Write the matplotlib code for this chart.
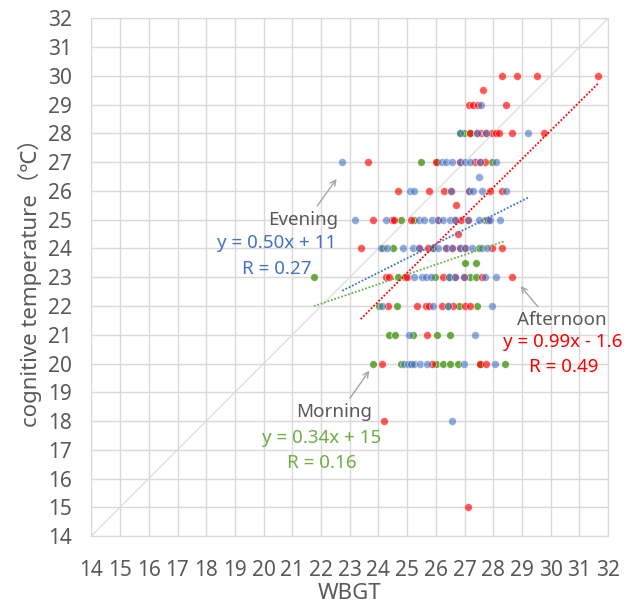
import numpy as np
import matplotlib
matplotlib.use("Agg")
import matplotlib.pyplot as plt

plt.rcParams['font.family'] = ['Noto Sans', 'Noto Sans CJK JP', 'DejaVu Sans']

# cognitive temperature -> list of WBGT readings, per time of day
morning = {
    28: [26.83, 26.98, 27.18],
    27: [25.47, 26.05, 27.94],
    25: [24.80, 25.25, 27.70],
    24: [24.17, 24.51, 25.90, 27.50],
    23.5: [27.00, 27.39],
    23: [21.75, 24.69, 25.97, 26.45, 27.18, 27.39],
    22: [24.02, 24.66, 26.41, 26.81, 27.42],
    21: [24.37, 24.57, 25.19, 26.04, 26.51],
    20: [23.80, 24.78, 25.15, 26.02, 26.25, 26.49, 26.78, 27.53, 28.40],
}
afternoon = {
    30: [28.31, 28.84, 29.53, 31.65],
    29.5: [27.65],
    29: [27.15, 27.29, 27.47, 28.43],
    28: [27.18, 27.45, 27.59, 27.76, 27.94, 28.11, 28.19, 28.67, 29.76],
    27: [23.64, 26.02, 26.83, 27.36, 27.53, 27.70],
    26: [24.67, 25.75, 26.30, 26.52, 27.15, 27.90, 28.32],
    25.5: [26.72],
    25: [23.80, 24.49, 24.56, 25.12, 26.08, 26.68, 26.87, 27.12, 27.82],
    24.5: [26.78],
    24: [23.38, 25.42, 25.73, 26.37, 26.55, 26.83, 27.00, 27.94, 28.29],
    23: [24.26, 24.37, 24.92, 24.98, 26.25, 26.66, 26.97, 27.62, 28.67],
    22: [24.34, 25.35, 25.65, 25.75, 26.20, 26.60, 27.01, 27.20],
    21: [25.70],
    20: [24.13, 25.85, 27.53, 27.76],
    18: [24.19],
    15: [27.12],
}
evening = {
    29: [27.56],
    28: [26.83, 27.45, 27.76, 29.21],
    27: [22.74, 26.20, 26.37, 26.55, 26.83, 27.00, 27.18, 27.53, 28.11],
    26.5: [27.50],
    26: [25.10, 25.25, 26.52, 27.15, 27.30, 27.62, 28.43],
    25: [23.17, 24.28, 25.42, 25.59, 25.85, 26.08, 26.25, 26.49, 26.68,
         27.12, 27.50, 27.82, 27.90, 28.23],
    24: [24.10, 24.30, 24.86, 25.20, 25.42, 25.90, 26.08, 26.37, 26.55,
         26.83, 27.00, 27.26, 27.60, 27.78],
    23: [25.23, 25.53, 25.65, 25.83, 26.45, 26.66, 26.97, 27.70, 28.09],
    22: [24.14, 25.90, 26.41, 27.96],
    21: [25.06, 27.36],
    20: [24.90, 25.03, 25.15, 25.23, 25.44, 25.71, 26.98, 28.05],
    18: [26.55],
}

# trendline coefficients (slope, intercept) as drawn in the chart
morning_fit = (0.34, 14.6)
afternoon_fit = (0.99, -1.6)
evening_fit = (0.50, 11.16)

def flatten(rows):
    xs, ys = [], []
    for t, ws in rows.items():
        xs += ws
        ys += [t] * len(ws)
    return np.array(xs), np.array(ys)

gray = '#595959'
series = [
    (morning, morning_fit, '#5AA02C', 0.9, '#70AD47'),
    (afternoon, afternoon_fit, '#FF0000', 0.65, '#FF0000'),
    (evening, evening_fit, '#4472C4', 0.6, '#4472C4'),
]

fig = plt.figure(figsize=(6.24, 6.08), dpi=100)
ax = fig.add_axes([0.1465, 0.1184, 0.8279, 0.8512])

ax.plot([14, 32], [14, 32], color='#d9d9d9', lw=0.8, zorder=1)

for rows, fit, col, a, lcol in series:
    x, y = flatten(rows)
    ax.scatter(x, y, s=32, color=col, alpha=a, edgecolors='white', linewidths=0.5, zorder=3)
    xx = np.array([x.min(), x.max()])
    ax.plot(xx, fit[0] * xx + fit[1], color=lcol, lw=1.3, ls=(0, (1, 1)), zorder=4)

ax.set_xlim(14, 32)
ax.set_ylim(14, 32)
ax.set_xticks(range(14, 33))
ax.set_yticks(range(14, 33))
ax.grid(True, color='#d9d9d9', lw=1)
ax.set_axisbelow(True)
for s in ax.spines.values():
    s.set_color('#d9d9d9')
ax.tick_params(length=0, labelsize=15, colors=gray)
ax.tick_params(axis='x', pad=17)
ax.tick_params(axis='y', pad=14)
ax.set_xlabel('WBGT', fontsize=16, color=gray, labelpad=2)
ax.set_ylabel('cognitive temperature（℃）', fontsize=16, color=gray, labelpad=4)

arrow = dict(arrowstyle='->', color='#a6a6a6', lw=1)
ax.annotate('', xy=(22.60, 26.50), xytext=(21.81, 25.40), arrowprops=arrow)
ax.annotate('', xy=(28.89, 22.77), xytext=(29.62, 21.90), arrowprops=arrow)
ax.annotate('', xy=(23.74, 19.83), xytext=(22.95, 18.71), arrowprops=arrow)

fs = 13.5
ax.text(21.37, 24.99, 'Evening', fontsize=fs, color=gray, ha='center', va='center')
ax.text(20.46, 24.19, 'y = 0.50x + 11', fontsize=fs, color='#4472C4', ha='center', va='center')
ax.text(20.46, 23.29, 'R = 0.27', fontsize=fs, color='#4472C4', ha='center', va='center')
ax.text(30.39, 21.51, 'Afternoon', fontsize=fs, color=gray, ha='center', va='center', clip_on=False)
ax.text(30.42, 20.75, 'y = 0.99x - 1.6', fontsize=fs, color='#FF0000', ha='center', va='center', clip_on=False)
ax.text(30.46, 19.88, 'R = 0.49', fontsize=fs, color='#FF0000', ha='center', va='center')
ax.text(22.45, 18.31, 'Morning', fontsize=fs, color=gray, ha='center', va='center')
ax.text(22.03, 17.41, 'y = 0.34x + 15', fontsize=fs, color='#70AD47', ha='center', va='center')
ax.text(22.03, 16.54, 'R = 0.16', fontsize=fs, color='#70AD47', ha='center', va='center')

fig.savefig('out.png', dpi=100)
